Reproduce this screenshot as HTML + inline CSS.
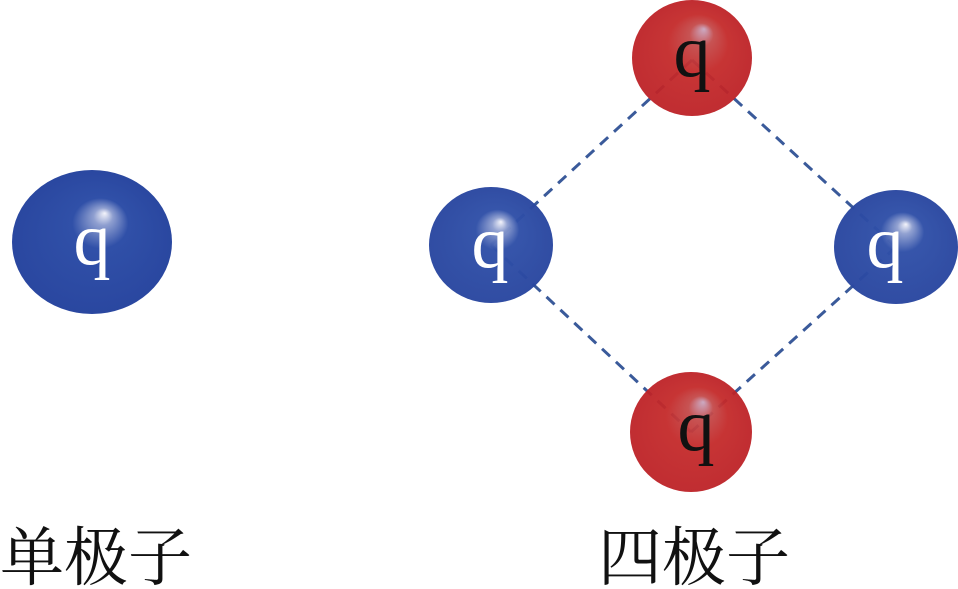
<!DOCTYPE html>
<html><head><meta charset="utf-8"><style>
html,body{margin:0;padding:0;background:#fff;}
svg{display:block;}
</style></head><body>
<svg width="958" height="589" viewBox="0 0 958 589" xmlns="http://www.w3.org/2000/svg">
<defs>
<radialGradient id="b" cx="0.5" cy="0.5" r="0.5" fx="0.58" fy="0.3">
<stop offset="0" stop-color="#f4f4fb"/>
<stop offset="0.12" stop-color="#8f9fd0"/>
<stop offset="0.35" stop-color="#3050a8"/>
<stop offset="1" stop-color="#2a47a0"/>
</radialGradient>
<radialGradient id="r" cx="0.5" cy="0.5" r="0.5" fx="0.6" fy="0.25">
<stop offset="0" stop-color="#c9a6c0"/>
<stop offset="0.2" stop-color="#c44a4a"/>
<stop offset="0.5" stop-color="#c42a2a"/>
<stop offset="1" stop-color="#bd2227"/>
</radialGradient>
</defs>
<g stroke="#3a5a9a" stroke-width="3" stroke-dasharray="11,8" fill="none">
<line x1="692" y1="60" x2="491" y2="245"/>
<line x1="692" y1="60" x2="896" y2="247"/>
<line x1="491" y1="245" x2="691" y2="432"/>
<line x1="896" y1="247" x2="691" y2="432"/>
</g>
<ellipse cx="92" cy="242" rx="80" ry="72" fill="url(#b)"/>
<ellipse cx="491" cy="245" rx="62" ry="58" fill="url(#b)" opacity="0.97"/>
<ellipse cx="896" cy="247" rx="62" ry="57" fill="url(#b)" opacity="0.97"/>
<ellipse cx="692" cy="58" rx="60" ry="58" fill="url(#r)" opacity="0.95"/>
<ellipse cx="691" cy="432" rx="61" ry="60" fill="url(#r)" opacity="0.95"/>
<g font-family="Liberation Serif, serif" font-size="74" text-anchor="middle">
<text x="92" y="264" fill="#fff">q</text>
<text x="490" y="267" fill="#fff">q</text>
<text x="885" y="267" fill="#fff">q</text>
<text x="692" y="76" fill="#111">q</text>
<text x="696" y="450" fill="#111">q</text>
</g>
<g font-family="'Liberation Serif', 'Noto Serif CJK SC', serif" font-size="64" fill="#111">
<text x="0" y="580">单极子</text>
<text x="598" y="580">四极子</text>
</g>
</svg>
</body></html>
